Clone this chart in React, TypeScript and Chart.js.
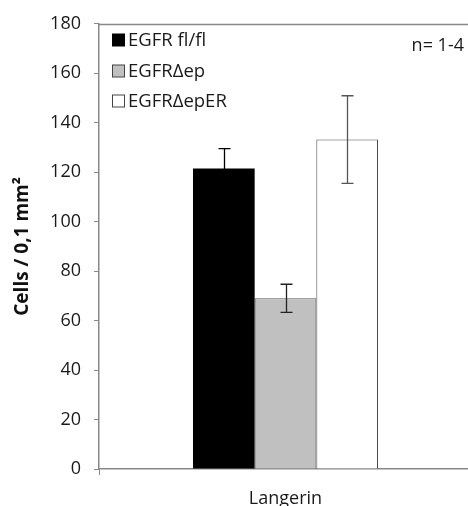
import React, { useEffect, useRef } from "react";
import { Chart, registerables } from "chart.js";

Chart.register(...registerables);

const categories = ["Langerin"];
const seriesLabels = ["EGFR fl/fl", "EGFRΔep", "EGFRΔepER"];
const egfrFlFl = [121.5];
const egfrDeltaEp = [69];
const egfrDeltaEpER = [133.2];
const errFlFl = [8];
const errDeltaEp = [5.7];
const errDeltaEpER = [17.7];
const yTicksMin = 0;
const yTicksMax = 180;
const yTickStep = 20;
const yTitle = "Cells / 0,1 mm²";
const noteText = "n= 1-4";

const fills = ["#000000", "#c0c0c0", "#ffffff"];
const borders = ["#000000", "#5a5a5a", "#4a4a4a"];
const errColors = ["#000000", "#222222", "#555555"];
const FONT = "'Open Sans', 'Liberation Sans', sans-serif";

export default function App() {
  const ref = useRef<HTMLCanvasElement | null>(null);
  useEffect(() => {
    if (!ref.current) return;
    const values = [egfrFlFl, egfrDeltaEp, egfrDeltaEpER];
    const errs = [errFlFl, errDeltaEp, errDeltaEpER];

    const overlay = {
      id: "overlay",
      afterDatasetsDraw(chart: any) {
        const ctx = chart.ctx;
        const y = chart.scales.y;
        const area = chart.chartArea;
        // error bars
        values.forEach((vals, di) => {
          const meta = chart.getDatasetMeta(di);
          meta.data.forEach((bar: any, i: number) => {
            const v = vals[i];
            const e = errs[di][i];
            const yTop = y.getPixelForValue(v + e);
            const yBot = y.getPixelForValue(v - e);
            const x = Math.round(bar.x) + 0.5;
            ctx.save();
            ctx.strokeStyle = errColors[di];
            ctx.lineWidth = 1.3;
            ctx.beginPath();
            ctx.moveTo(x, yTop);
            ctx.lineTo(x, yBot);
            ctx.moveTo(x - 6, yTop);
            ctx.lineTo(x + 6, yTop);
            ctx.moveTo(x - 6, yBot);
            ctx.lineTo(x + 6, yBot);
            ctx.stroke();
            ctx.restore();
          });
        });
        // top border
        ctx.save();
        ctx.strokeStyle = "#888888";
        ctx.lineWidth = 1.5;
        ctx.beginPath();
        ctx.moveTo(area.left, Math.round(area.top) + 0.5);
        ctx.lineTo(area.right, Math.round(area.top) + 0.5);
        ctx.stroke();
        ctx.restore();
        // legend
        ctx.save();
        ctx.font = `18.5px ${FONT}`;
        ctx.textBaseline = "middle";
        ctx.textAlign = "left";
        const rowY = [40, 71, 101];
        seriesLabels.forEach((lab, i) => {
          const bx = area.left + 13.5;
          const by = rowY[i] - 6;
          ctx.fillStyle = fills[i];
          ctx.fillRect(bx, by, 12, 12);
          ctx.strokeStyle = i === 0 ? "#000" : "#444";
          ctx.lineWidth = 1;
          ctx.strokeRect(bx, by, 12, 12);
          ctx.fillStyle = "#1a1a1a";
          ctx.fillText(lab, area.left + 29, rowY[i] + 1);
        });
        // note
        ctx.font = `18px ${FONT}`;
        ctx.textAlign = "right";
        ctx.fillText(noteText, 464, 46);
        ctx.restore();
      },
    };

    const chart = new Chart(ref.current, {
      type: "bar",
      data: {
        labels: categories,
        datasets: seriesLabels.map((lab, i) => ({
          label: lab,
          data: values[i],
          backgroundColor: fills[i],
          borderColor: borders[i],
          borderWidth: i === 0 ? 0 : 1,
          categoryPercentage: 0.496,
          barPercentage: 1,
        })),
      },
      options: {
        responsive: false,
        animation: false,
        devicePixelRatio: 1,
        layout: { padding: { top: 22, left: 0, right: 0, bottom: 0 } },
        plugins: {
          legend: { display: false },
          tooltip: { enabled: false },
        },
        scales: {
          x: {
            grid: {
              display: true,
              drawOnChartArea: false,
              drawTicks: true,
              tickLength: 6,
              color: "#888888",
              offset: true,
            },
            border: { display: true, color: "#888888", width: 1.5 },
            ticks: {
              font: { family: FONT, size: 18 },
              color: "#1a1a1a",
              padding: 13,
            },
            afterFit(scale: any) {
              scale.height = 530 - 469;
            },
          },
          y: {
            min: yTicksMin,
            max: yTicksMax,
            ticks: {
              stepSize: yTickStep,
              font: { family: FONT, size: 18 },
              color: "#1a1a1a",
              padding: 13,
            },
            grid: {
              display: true,
              drawOnChartArea: false,
              drawTicks: true,
              tickLength: 5,
              color: "#888888",
            },
            border: { display: true, color: "#888888", width: 1.5 },
            title: {
              display: true,
              text: yTitle,
              font: { family: FONT, size: 19, weight: "bold" },
              color: "#111111",
              padding: { top: 11, bottom: 0 },
            },
            afterFit(scale: any) {
              scale.width = 99;
            },
          },
        },
      },
      plugins: [overlay],
    });
    return () => chart.destroy();
  }, []);

  return (
    <div
      style={{
        position: "absolute",
        left: 0,
        top: 0,
        width: 468,
        height: 506,
        overflow: "hidden",
        background: "#fff",
      }}
    >
      <canvas ref={ref} width={472} height={530} style={{ width: 472, height: 530, display: "block" }} />
    </div>
  );
}
